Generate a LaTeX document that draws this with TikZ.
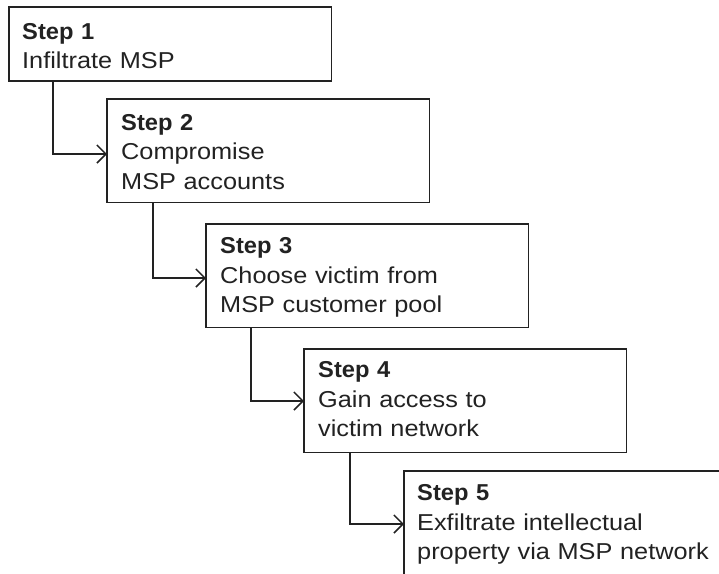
\documentclass[tikz,border=0pt]{standalone}
\usepackage{fontspec}
\setmainfont{Liberation Sans}[FakeStretch=1.1]
\newfontfamily\stepboldfont{Liberation Sans}[FakeStretch=1.03]
\usetikzlibrary{arrows.meta}
\definecolor{ink}{HTML}{222222}
\newcommand{\steptitle}[1]{{\stepboldfont\bfseries #1}}
\begin{document}
\begin{tikzpicture}[x=1pt,y=1pt,
  stepbox/.style={draw=ink, line width=1.7pt, rectangle, inner sep=0pt, outer sep=0pt,
    anchor=north west, minimum width=322.5pt, minimum height=103.5pt},
  steptext/.style={anchor=base west, inner sep=0pt, text=ink, text width=305pt, align=left,
    font=\fontsize{23}{29.5}\selectfont},
  conn/.style={draw=ink, line width=1.5pt, -{Straight Barb[length=9pt,width=18pt,line width=1.5pt]}}]
\useasboundingbox (0,0) rectangle (719,-573);
\clip (0,0) rectangle (719,-573);
\fill[white] (0,0) rectangle (719,-573);
% boxes
\node[stepbox, minimum height=74pt] (b1) at (9,-7) {};
\node[stepbox] (b2) at (107,-99) {};
\node[stepbox] (b3) at (206,-224) {};
\node[stepbox] (b4) at (304,-349) {};
\node[stepbox] (b5) at (404,-471) {};
% texts
\node[steptext] (t1) at ([shift={(13,-32)}]b1.north west) {\steptitle{Step 1}\\Infiltrate MSP};
\node[steptext] (t2) at ([shift={(14,-31)}]b2.north west) {\steptitle{Step 2}\\Compromise\\MSP accounts};
\node[steptext] (t3) at ([shift={(14,-29.5)}]b3.north west) {\steptitle{Step 3}\\Choose victim from\\MSP customer pool};
\node[steptext] (t4) at ([shift={(14,-28.5)}]b4.north west) {\steptitle{Step 4}\\Gain access to\\victim network};
\node[steptext] (t5) at ([shift={(13,-29.5)}]b5.north west) {\steptitle{Step 5}\\Exfiltrate intellectual\\property via MSP network};
% connectors
\coordinate (a2) at ([yshift=-55pt]b2.north west);
\coordinate (a3) at ([yshift=-54pt]b3.north west);
\coordinate (a4) at ([yshift=-52pt]b4.north west);
\coordinate (a5) at ([yshift=-53pt]b5.north west);
\draw[conn] ([xshift=44pt]b1.south west) |- (a2);
\draw[conn] ([xshift=46pt]b2.south west) |- (a3);
\draw[conn] ([xshift=45pt]b3.south west) |- (a4);
\draw[conn] ([xshift=46pt]b4.south west) |- (a5);
\end{tikzpicture}
\end{document}
